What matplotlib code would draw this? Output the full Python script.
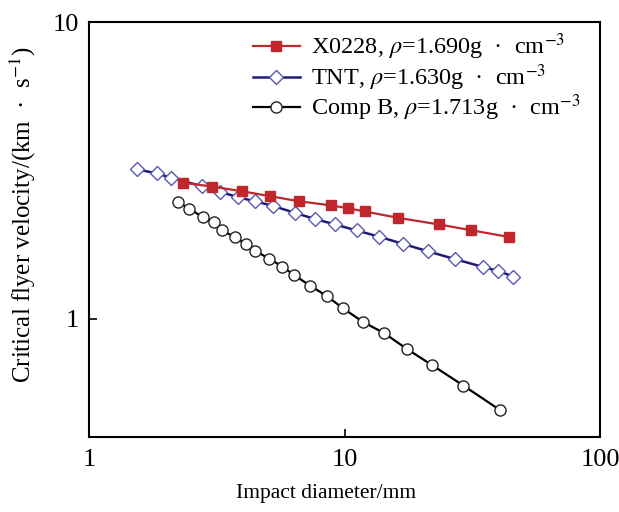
import matplotlib.pyplot as plt
import numpy as np

plt.rcParams['font.family'] = ['Liberation Serif', 'DejaVu Serif']
plt.rcParams['mathtext.fontset'] = 'stix'

# X0228, rho=1.690
d_x0228 = [2.33, 3.04, 3.98, 5.11, 6.64, 8.88, 10.3, 12.0, 16.2, 23.4, 31.2, 44.2]
v_x0228 = [2.875, 2.79, 2.69, 2.59, 2.49, 2.41, 2.36, 2.30, 2.19, 2.08, 1.99, 1.886]

# TNT, rho=1.630
d_tnt = [1.545, 1.84, 2.09, 2.76, 3.26, 3.82, 4.46, 5.27, 6.40, 7.66, 9.18,
         11.16, 13.7, 16.9, 21.3, 27.1, 34.7, 40.0, 45.8]
v_tnt = [3.19, 3.09, 2.99, 2.80, 2.68, 2.57, 2.49, 2.40, 2.275, 2.17, 2.08,
         1.985, 1.89, 1.79, 1.687, 1.589, 1.497, 1.45, 1.388]

# Comp B, rho=1.713
d_compb = [2.24, 2.47, 2.79, 3.08, 3.32, 3.73, 4.11, 4.46, 5.08, 5.71, 6.34,
           7.33, 8.52, 9.89, 11.8, 14.3, 17.5, 22.1, 29.2, 40.6]
v_compb = [2.47, 2.35, 2.20, 2.115, 1.99, 1.88, 1.79, 1.696, 1.594, 1.50, 1.406,
           1.294, 1.194, 1.084, 0.977, 0.895, 0.793, 0.697, 0.596, 0.493]

fig = plt.figure(figsize=(6.19, 5.12), dpi=100)
ax = fig.add_axes([0.1438, 0.1465, 0.8255, 0.8105])

ax.plot(d_x0228, v_x0228, color='#c0272d', lw=1.6, marker='s', ms=7.5,
        mfc='#c0272d', mec='#c0272d', zorder=3,
        label=r'X0228, $\rho$=1.690g  ·  cm$^{-3}$')
ax.plot(d_tnt, v_tnt, color='#1f1a78', lw=1.8, marker='D', ms=7.5,
        mfc='white', mec='#5a58b0', mew=1.0, zorder=2,
        label=r'TNT, $\rho$=1.630g  ·  cm$^{-3}$')
ax.plot(d_compb, v_compb, color='black', lw=1.6, marker='o', ms=8,
        mfc='white', mec='#222222', mew=1.0, zorder=2,
        label=r'Comp B, $\rho$=1.713g  ·  cm$^{-3}$')

ax.set_xscale('log')
ax.set_yscale('log')
ax.set_xlim(1, 100)
ax.set_ylim(0.4, 10)
ax.set_xticks([1, 10, 100])
ax.set_xticklabels(['1', '10', '100'])
ax.set_yticks([1, 10])
ax.set_yticklabels(['1', '10'])
ax.minorticks_off()
ax.tick_params(direction='in', length=6, width=1.2, labelsize=19)
ax.tick_params(axis='x', pad=9)
ax.tick_params(axis='y', pad=7)

for s in ax.spines.values():
    s.set_linewidth(1.5)

ax.set_xlabel('Impact diameter/mm', fontsize=15.5)
ax.set_ylabel(r'Critical flyer velocity/(km  ·  s$^{-1}$)', fontsize=18)
ax.xaxis.set_label_coords(0.464, -0.113)
ax.yaxis.set_label_coords(-0.1, 0.537)

ax.legend(loc='upper right', frameon=False, fontsize=17.5, handlelength=1.95,
          bbox_to_anchor=(0.99, 1.012), borderaxespad=0.2, labelspacing=0.0,
          handletextpad=0.45)

fig.savefig('out.png', dpi=100)
